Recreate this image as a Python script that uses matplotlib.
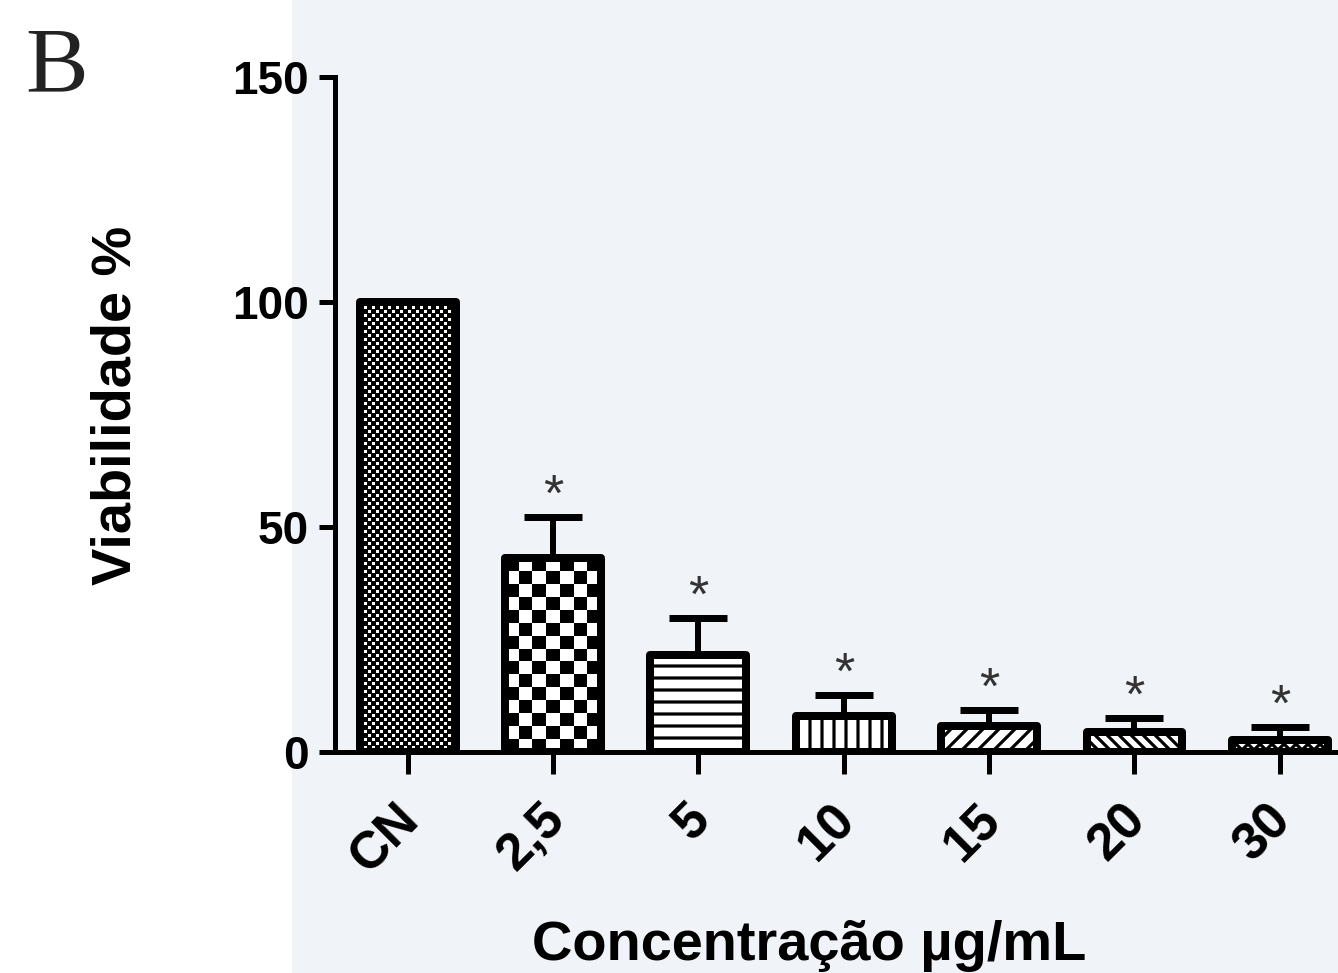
import numpy as np
import matplotlib.pyplot as plt
import matplotlib.transforms as mtransforms
from matplotlib.patches import Rectangle

categories = ["CN", "2,5", "5", "10", "15", "20", "30"]
viab_mean = [100, 43.1, 21.6, 8.0, 5.8, 4.4, 2.7]
viab_sd = [0, 9.1, 8.2, 4.7, 3.5, 3.2, 2.9]
signif = ["", "*", "*", "*", "*", "*", "*"]
hatches = [None, None, "--", "||", "///", "\\\\\\\\", "xxxx"]
patterns = {0: "dots", 1: "checker"}   # fills without a native hatch


def pattern_image(kind, w, h):
    if kind == "checker":
        nr, nc = max(1, round(h / 13)), max(1, round(w / 13))
        return (np.add.outer(np.arange(nr), np.arange(nc)) % 2).astype(float)
    # black with small white dots on a diamond grid
    r, c = np.mgrid[0:h, 0:w]
    a = ((r % 8) < 3) & ((c % 8) < 3)
    b = (((r + 4) % 8) < 3) & (((c + 4) % 8) < 3)
    return (a | b).astype(float)


plt.rcParams["font.family"] = ["Liberation Sans", "DejaVu Sans"]
plt.rcParams["hatch.linewidth"] = 1.6

fig = plt.figure(figsize=(1338 / 144, 973 / 144), dpi=144)
fig.patches.append(Rectangle((292 / 1338, 0), 1, 1, transform=fig.transFigure,
                             facecolor="#f0f3f8", edgecolor="none", zorder=-1))

ax = fig.add_axes([335 / 1338, 221 / 973, 1 - 335 / 1338, 675 / 973])
ax.set_facecolor("none")
x = np.arange(len(categories))
xlim = (-0.5, 6.4)
ylim = (0, 150)
ax.set_xlim(*xlim)
ax.set_ylim(*ylim)

bars = ax.bar(x, viab_mean, width=0.66, color="white", edgecolor="black",
              linewidth=0, zorder=2)
for b, h in zip(bars, hatches):
    if h:
        b.set_hatch(h)

fig.canvas.draw()
for i, kind in patterns.items():
    b = bars[i]
    x0, y0 = b.get_x(), 0
    x1, y1 = x0 + b.get_width(), b.get_height()
    p0 = ax.transData.transform((x0, y0))
    p1 = ax.transData.transform((x1, y1))
    w = int(round(p1[0] - p0[0]))
    h = int(round(p1[1] - p0[1]))
    im = ax.imshow(pattern_image(kind, w, h), cmap="gray", vmin=0, vmax=1,
                   extent=(x0, x1, y0, y1), interpolation="nearest",
                   aspect="auto", zorder=2.5)
    im.set_clip_path(b)
ax.set_xlim(*xlim)
ax.set_ylim(*ylim)

ax.bar(x, viab_mean, width=0.66, fill=False, edgecolor="black",
       linewidth=4, joinstyle="round", zorder=3)
ax.errorbar(x[1:], viab_mean[1:], yerr=[np.zeros(len(x) - 1), viab_sd[1:]],
            fmt="none", ecolor="black", elinewidth=3, capsize=14.5, capthick=3.5,
            zorder=2.8)
for xi, m, s, t in zip(x, viab_mean, viab_sd, signif):
    if t:
        ax.annotate(t, (xi, m + s), xytext=(0, 10), textcoords="offset points",
                    ha="center", va="center", fontsize=26, color="#333333",
                    zorder=4)

for side in ["top", "right"]:
    ax.spines[side].set_visible(False)
ax.spines["left"].set_linewidth(2.5)
ax.spines["bottom"].set_linewidth(2.5)
ax.spines["bottom"].set_zorder(3.5)

ax.set_yticks([0, 50, 100, 150])
ax.tick_params(axis="y", length=8, width=2.5, pad=5, labelsize=23)
ax.tick_params(axis="x", length=11, width=2.5, pad=19, labelsize=26)
ax.set_xticks(x)
ax.set_xticklabels(categories, rotation=45, ha="right", va="center",
                   rotation_mode="anchor")
offset = mtransforms.ScaledTranslation(2 / 72, 0, fig.dpi_scale_trans)
for lab in ax.get_xticklabels():
    lab.set_transform(lab.get_transform() + offset)
for lab in ax.get_xticklabels() + ax.get_yticklabels():
    lab.set_fontweight("bold")

ax.set_ylabel("Viabilidade %", fontsize=28, fontweight="bold")
ax.yaxis.set_label_coords(-0.192, 0.513)
ax.set_xlabel("Concentração µg/mL", fontsize=28, fontweight="bold")
ax.xaxis.set_label_coords(0.4726, -0.249)

fig.text(25 / 1338, 1 - 91 / 973, "B", fontsize=47, color="#222222",
         family=["Liberation Serif", "DejaVu Serif"], ha="left", va="baseline")

fig.savefig("out.png", dpi=144)
